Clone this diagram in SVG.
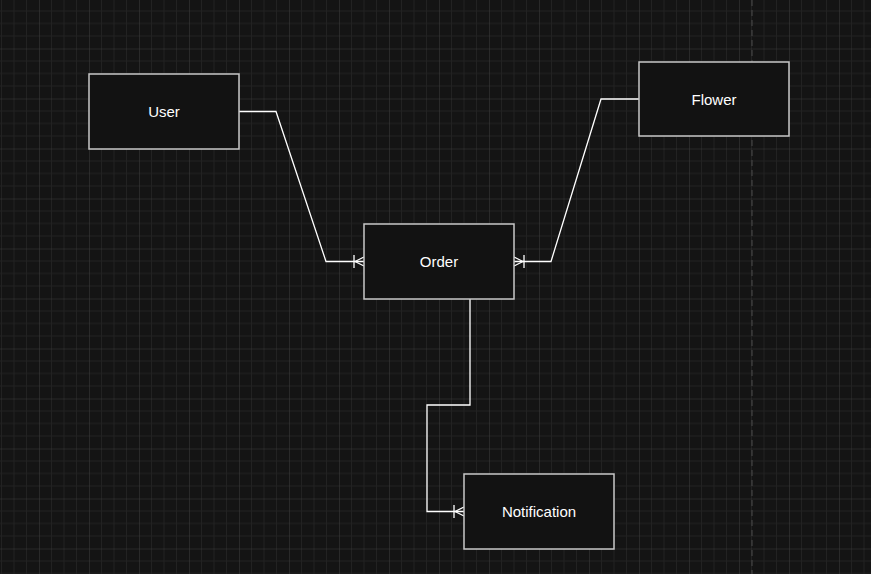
<svg xmlns="http://www.w3.org/2000/svg" width="871" height="574" viewBox="0 0 871 574">
<defs>
<pattern id="grid" patternUnits="userSpaceOnUse" x="-11" y="-1.5" width="50" height="50">
<path d="M12.5 0V50M25 0V50M37.5 0V50M0 12.5H50M0 25H50M0 37.5H50" stroke="#222222" stroke-width="1" fill="none"/>
<path d="M0 0V50M0 0H50" stroke="#3e3e3e" stroke-width="1" fill="none"/>
</pattern>
</defs>
<style>
.box{fill:#121212;stroke:#c8c8c8;stroke-width:1.5}
.lbl{fill:#ffffff;font-family:"Liberation Sans",Arial,sans-serif;font-size:15px;text-anchor:middle;dominant-baseline:central}
.edge{fill:none;stroke:#ffffff;stroke-width:1.3}
</style>
<rect width="871" height="574" fill="#141414"/>
<rect width="871" height="574" fill="url(#grid)"/>
<line x1="752" y1="0" x2="752" y2="574" stroke="#4a4a4a" stroke-width="1" stroke-dasharray="6 4"/>
<g id="connectors">
<path class="edge" d="M239 111.5H276L326 261.5H364"/>
<path class="edge" d="M354 255V268M355 261.5L364 257M355 261.5L364 266"/>
<path class="edge" d="M639 99H601L551 261.5H514"/>
<path class="edge" d="M524 255V268M523 261.5L514 257M523 261.5L514 266"/>
<path class="edge" d="M470 299V405H427V511.5H464"/>
<path class="edge" d="M454 505V518M455 511.5L464 507M455 511.5L464 516"/>
</g>
<g id="user"><rect class="box" x="89" y="74" width="150" height="75"/><text class="lbl" x="164" y="111.5">User</text></g>
<g id="flower"><rect class="box" x="639" y="62" width="150" height="74"/><text class="lbl" x="714" y="99">Flower</text></g>
<g id="order"><rect class="box" x="364" y="224" width="150" height="75"/><text class="lbl" x="439" y="261.5">Order</text></g>
<g id="notification"><rect class="box" x="464" y="474" width="150" height="75"/><text class="lbl" x="539" y="511.5">Notification</text></g>
</svg>
